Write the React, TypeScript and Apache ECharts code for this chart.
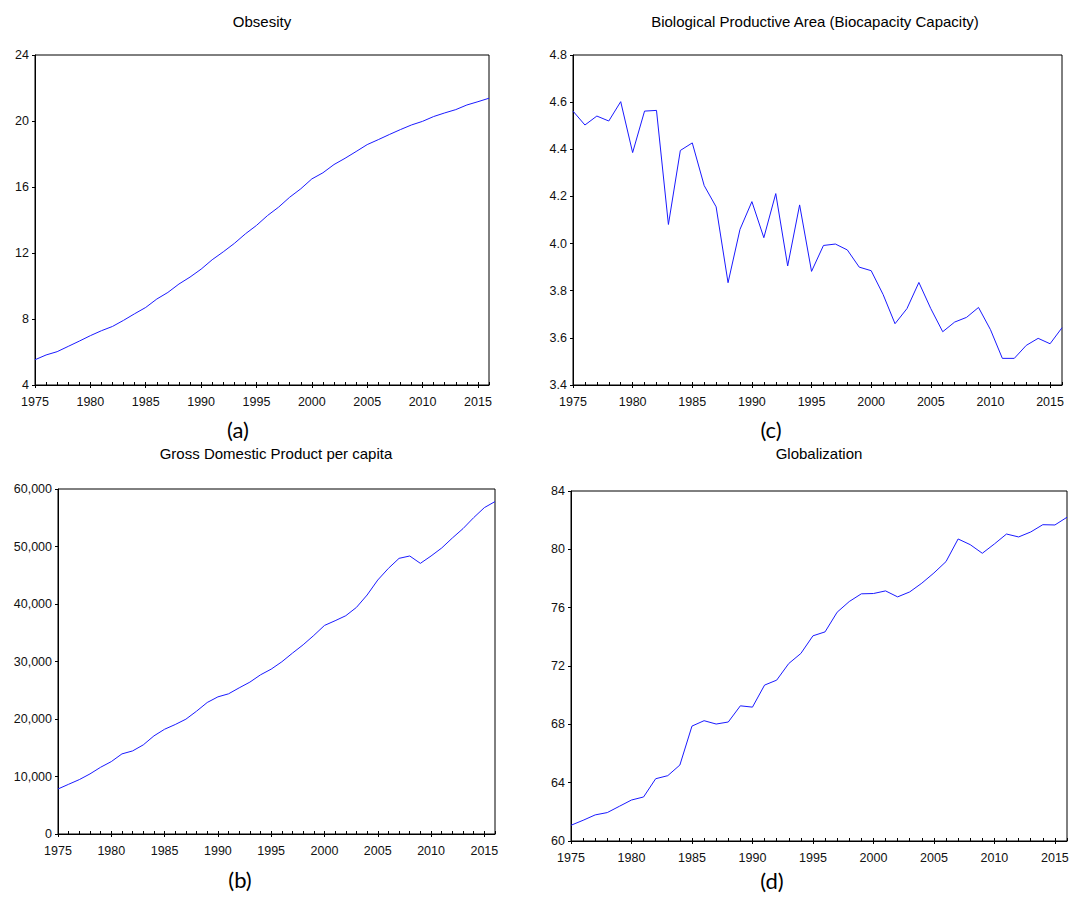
import React, { useEffect, useRef } from "react";
import * as echarts from "echarts";

// Annual observations, 1975–2016
const years = [
  "1975", "1976", "1977", "1978", "1979", "1980", "1981", "1982", "1983", "1984",
  "1985", "1986", "1987", "1988", "1989", "1990", "1991", "1992", "1993", "1994",
  "1995", "1996", "1997", "1998", "1999", "2000", "2001", "2002", "2003", "2004",
  "2005", "2006", "2007", "2008", "2009", "2010", "2011", "2012", "2013", "2014",
  "2015", "2016",
];

const obesity = [
  5.53, 5.82, 6.02, 6.34, 6.66, 6.99, 7.29, 7.55, 7.92, 8.32,
  8.7, 9.21, 9.61, 10.12, 10.54, 11.02, 11.59, 12.07, 12.58, 13.16,
  13.67, 14.27, 14.78, 15.38, 15.89, 16.49, 16.86, 17.36, 17.74, 18.15,
  18.57, 18.87, 19.18, 19.48, 19.76, 19.98, 20.27, 20.49, 20.69, 20.97,
  21.17, 21.38,
];

const gdpPerCapita = [
  7830, 8650, 9460, 10450, 11610, 12590, 13930, 14450, 15500, 17060,
  18220, 19040, 19970, 21360, 22870, 23850, 24380, 25420, 26410, 27680,
  28670, 29950, 31460, 32910, 34530, 36270, 37090, 37960, 39410, 41560,
  44170, 46200, 47940, 48350, 47070, 48350, 49740, 51480, 53110, 55020,
  56760, 57810,
];

const biocapacity = [
  4.562, 4.503, 4.541, 4.52, 4.602, 4.386, 4.562, 4.565, 4.081, 4.395,
  4.427, 4.246, 4.156, 3.834, 4.06, 4.178, 4.025, 4.212, 3.905, 4.164,
  3.882, 3.992, 3.998, 3.973, 3.9, 3.885, 3.784, 3.66, 3.724, 3.835,
  3.724, 3.626, 3.667, 3.687, 3.729, 3.635, 3.513, 3.513, 3.568, 3.598,
  3.575, 3.643,
];

const globalization = [
  61.08, 61.42, 61.79, 61.95, 62.38, 62.81, 63.02, 64.27, 64.48, 65.21,
  67.88, 68.25, 68.02, 68.16, 69.27, 69.18, 70.69, 71.03, 72.17, 72.86,
  74.07, 74.34, 75.69, 76.42, 76.95, 76.97, 77.15, 76.74, 77.08, 77.68,
  78.38, 79.16, 80.71, 80.32, 79.73, 80.37, 81.05, 80.85, 81.19, 81.69,
  81.67, 82.2,
];

const panelTitles = [
  "Obsesity",
  "Gross Domestic Product per capita",
  "Biological Productive Area (Biocapacity Capacity)",
  "Globalization",
];
const panelCaptions = ["(a)", "(b)", "(c)", "(d)"];

const AXIS_FONT = '"Liberation Sans", Arial, sans-serif';
const LINE_COLOR = "#1a1aff";

const panels = [
  {
    data: obesity,
    grid: { left: 35, top: 55, width: 454, height: 330 },
    y: { min: 4, max: 24, interval: 4 },
    fmt: (v: number) => String(v),
    title: { x: 262, y: 21 },
    caption: { x: 238, y: 429 },
  },
  {
    data: gdpPerCapita,
    grid: { left: 58, top: 489, width: 437, height: 345 },
    y: { min: 0, max: 60000, interval: 10000 },
    fmt: (v: number) => v.toLocaleString("en-US"),
    title: { x: 276, y: 453 },
    caption: { x: 240, y: 879 },
  },
  {
    data: biocapacity,
    grid: { left: 573, top: 55, width: 489, height: 330 },
    y: { min: 3.4, max: 4.8, interval: 0.2 },
    fmt: (v: number) => v.toFixed(1),
    title: { x: 815, y: 21 },
    caption: { x: 771, y: 429 },
  },
  {
    data: globalization,
    grid: { left: 571, top: 491, width: 496, height: 350 },
    y: { min: 60, max: 84, interval: 4 },
    fmt: (v: number) => String(v),
    title: { x: 819, y: 453 },
    caption: { x: 772, y: 880 },
  },
];

export default function App() {
  const ref = useRef<HTMLDivElement>(null);

  useEffect(() => {
    document.body.style.margin = "0";
    if (!ref.current) return;
    const chart = echarts.init(ref.current, null, { renderer: "svg" });

    const grids = panels.map((p) => ({
      ...p.grid,
      show: true,
      borderColor: "#000",
      borderWidth: 1,
      backgroundColor: "transparent",
      containLabel: false,
    }));

    const xAxes: any[] = [];
    const yAxes: any[] = [];
    const series: any[] = [];
    const graphics: any[] = [];

    panels.forEach((p, i) => {
      // yearly ticks inside, labels every five years
      xAxes.push({
        type: "category",
        gridIndex: i,
        data: years,
        boundaryGap: false,
        axisLine: { lineStyle: { color: "#000", width: 1 } },
        axisTick: { interval: 0, inside: true, length: 3, lineStyle: { color: "#000" } },
        axisLabel: {
          interval: 4,
          margin: 10,
          color: "#111",
          fontSize: 12.5,
          fontFamily: AXIS_FONT,
        },
        splitLine: { show: false },
      });
      // five-year major ticks below the axis
      xAxes.push({
        type: "category",
        gridIndex: i,
        data: years,
        boundaryGap: false,
        position: "bottom",
        axisLine: { show: false },
        axisTick: { interval: 4, inside: false, length: 3, lineStyle: { color: "#000" } },
        axisLabel: { show: false },
        splitLine: { show: false },
      });
      yAxes.push({
        type: "value",
        gridIndex: i,
        min: p.y.min,
        max: p.y.max,
        interval: p.y.interval,
        axisLine: { show: true, lineStyle: { color: "#000", width: 1 } },
        axisTick: { show: true, length: 3, lineStyle: { color: "#000" } },
        axisLabel: {
          margin: 6,
          color: "#111",
          fontSize: 12.5,
          fontFamily: AXIS_FONT,
          formatter: p.fmt,
        },
        splitLine: { show: false },
      });
      series.push({
        type: "line",
        xAxisIndex: i * 2,
        yAxisIndex: i,
        data: p.data,
        symbol: "none",
        showSymbol: false,
        lineStyle: { color: LINE_COLOR, width: 1 },
      });
      graphics.push({
        type: "text",
        x: p.title.x,
        y: p.title.y,
        style: {
          text: panelTitles[i],
          fill: "#000",
          fontSize: 15,
          fontFamily: AXIS_FONT,
          align: "center",
          verticalAlign: "middle",
        },
      });
      graphics.push({
        type: "text",
        x: p.caption.x,
        y: p.caption.y,
        style: {
          text: panelCaptions[i],
          fill: "#000",
          fontSize: 22,
          fontFamily: "Lato, 'Open Sans', sans-serif",
          align: "center",
          verticalAlign: "middle",
        },
      });
    });

    chart.setOption({
      animation: false,
      backgroundColor: "#fff",
      grid: grids,
      xAxis: xAxes,
      yAxis: yAxes,
      series,
      graphic: graphics,
    });

    return () => chart.dispose();
  }, []);

  return <div ref={ref} style={{ width: 1074, height: 897 }} />;
}
